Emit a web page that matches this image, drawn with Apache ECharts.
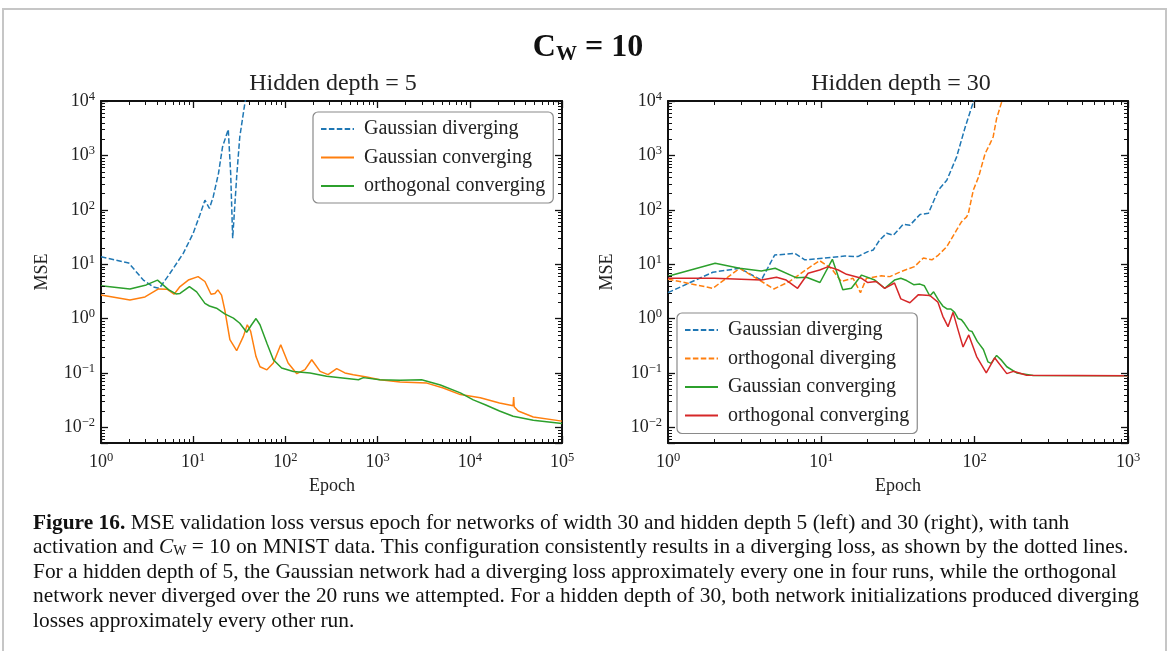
<!DOCTYPE html>
<html><head><meta charset="utf-8">
<script src="https://cdn.jsdelivr.net/npm/echarts@6/dist/echarts.min.js"></script>
<style>html,body{margin:0;padding:0;background:#fff}#c{width:1170px;height:651px}</style>
</head><body><div id="c"></div>
<script>
const FONT = '"Liberation Serif", "DejaVu Serif", serif';

// ---------- axis ranges ----------
const Y_MIN = 0.00515, Y_MAX = 1e4;
const LEFT_X_MAX = 1e5, RIGHT_X_MAX = 1e3;

// ---------- Left panel: hidden depth = 5 ----------
const L_GAUSS_DIV_X = [1, 2.0, 2.88, 3.7, 4.3, 5.6, 7.8, 10, 11.8, 13.4, 15, 16.5, 18.8, 20.8, 24, 25.5, 26.8, 29.6, 32, 36.5, 40];
const L_GAUSS_DIV_Y = [13.7, 10.5, 5.1, 3.8, 3.6, 6.8, 15.8, 37, 80, 150, 106, 174, 465, 1430, 3000, 465, 30, 400, 2180, 9600, 20000];

const L_GAUSS_CONV_X = [1, 2.06, 3.0, 4.2, 5.2, 6.2, 7.2, 8.85, 11.3, 13.4, 15.6, 17.2, 18.5, 20.3, 22, 25, 29.6, 35, 38.6, 42, 48, 53, 63, 74, 89, 107, 133, 163, 193, 238, 290, 360, 442, 545, 760, 1060, 1750, 3420, 5150, 7900, 13000, 21000, 29500, 29900, 30300, 33500, 48800, 100000];
const L_GAUSS_CONV_Y = [2.72, 2.2, 2.5, 3.5, 3.46, 2.8, 3.87, 5.1, 5.9, 4.8, 2.8, 2.9, 3.37, 2.7, 1.44, 0.41, 0.256, 0.47, 0.77, 0.58, 0.2, 0.13, 0.114, 0.152, 0.33, 0.152, 0.097, 0.115, 0.175, 0.107, 0.093, 0.12, 0.1, 0.093, 0.084, 0.075, 0.068, 0.065, 0.053, 0.04, 0.035, 0.028, 0.025, 0.036, 0.024, 0.02, 0.0155, 0.013];

const L_ORTHO_CONV_X = [1, 2.06, 3.1, 4.1, 5.4, 6.5, 7.2, 9.1, 10.9, 13.4, 15, 17.9, 22, 27.3, 32, 38, 43, 48, 53, 63, 74, 91, 122, 185, 280, 620, 700, 730, 1060, 1750, 3000, 3100, 4800, 7900, 10900, 14700, 21000, 29500, 48800, 100000];
const L_ORTHO_CONV_Y = [4.0, 3.5, 4.15, 5.1, 3.4, 2.84, 2.9, 3.87, 3.1, 1.9, 1.7, 1.55, 1.22, 1.02, 0.82, 0.56, 0.77, 1.0, 0.77, 0.35, 0.175, 0.123, 0.106, 0.1, 0.087, 0.075, 0.082, 0.087, 0.075, 0.073, 0.075, 0.07, 0.06, 0.043, 0.032, 0.026, 0.02, 0.016, 0.0135, 0.0117];

// ---------- Right panel: hidden depth = 30 ----------
const R_GAUSS_DIV_X = [1, 1.96, 2.93, 4.06, 4.96, 6.7, 7.8, 10.5, 14.2, 17.3, 20.1, 21.8, 24, 26.7, 29.5, 34.2, 37.8, 44, 49.9, 58, 65.8, 76.3, 86.7, 98, 105];
const R_GAUSS_DIV_Y = [3.0, 7.1, 8.4, 5.1, 14.7, 15.8, 12, 12.9, 14.1, 13.8, 17, 18.2, 27.8, 37, 34, 54, 52, 82, 86, 230, 350, 940, 3300, 9600, 20000];

const R_ORTHO_DIV_X = [1, 1.96, 2.93, 3.33, 4.9, 6.2, 8.2, 9.75, 11.6, 13.5, 16.1, 18, 19.7, 24.6, 28, 33, 40.5, 46.3, 52.6, 58, 65.8, 76.3, 82, 88.6, 91, 98, 106, 117, 126, 132, 139, 150, 160];
const R_ORTHO_DIV_Y = [5.3, 3.6, 8.4, 6.8, 3.5, 4.8, 8.4, 11.6, 8.4, 4.8, 5.5, 3.0, 5.5, 6.1, 5.9, 7.3, 9.0, 13, 12, 14.7, 21, 42.5, 60, 74, 86, 230, 400, 1080, 1650, 2180, 4750, 9600, 20000];

const R_GAUSS_CONV_X = [1, 2.03, 2.93, 4.06, 5.0, 6.9, 8.0, 9.8, 11.8, 13.8, 15.7, 18.3, 22.3, 25.9, 30, 33, 36, 40, 44, 47, 51, 54, 58, 62, 66, 70, 74, 78, 82, 86, 92, 96, 104, 114, 122, 128, 139, 150, 162, 188, 241, 1000];
const R_GAUSS_CONV_Y = [6.0, 10.4, 8.4, 7.5, 8.4, 5.6, 5.75, 4.6, 12.3, 3.4, 3.6, 6.3, 5.1, 3.6, 5.1, 5.5, 5.0, 4.2, 4.3, 4.0, 2.6, 3.1, 2.2, 1.7, 1.5, 1.5, 1.3, 1.0, 0.95, 0.8, 0.6, 0.58, 0.38, 0.27, 0.16, 0.15, 0.21, 0.17, 0.13, 0.1, 0.09, 0.089];

const R_ORTHO_CONV_X = [1, 2, 4.06, 5.1, 5.9, 7.0, 8.2, 9.75, 11.1, 12.9, 14.6, 18.3, 20.1, 22.8, 25.9, 30, 33, 37.8, 43, 51, 57.6, 62, 67, 72.3, 77.9, 84, 91.5, 103, 119, 135, 162, 179, 218, 1000];
const R_ORTHO_CONV_Y = [5.5, 5.5, 5.1, 5.75, 5.1, 3.6, 6.8, 7.8, 9.0, 7.8, 6.5, 5.5, 4.6, 4.8, 3.6, 4.5, 2.3, 1.95, 2.75, 2.65, 2.0, 1.1, 0.71, 1.3, 0.62, 0.3, 0.5, 0.2, 0.1, 0.19, 0.097, 0.107, 0.091, 0.089];

// ---------- series names / colours ----------
const NAMES_LEFT = ['Gaussian diverging', 'Gaussian converging', 'orthogonal converging'];
const NAMES_RIGHT = ['Gaussian diverging', 'orthogonal diverging', 'Gaussian converging', 'orthogonal converging'];
const C_BLUE = '#1f77b4', C_ORANGE = '#ff7f0e', C_GREEN = '#2ca02c', C_RED = '#d62728';

const CAPTION = [
  '{b|Figure 16.} MSE validation loss versus epoch for networks of width 30 and hidden depth 5 (left) and 30 (right), with tanh',
  'activation and {i|C}{sub|W} = 10 on MNIST data. This configuration consistently results in a diverging loss, as shown by the dotted lines.',
  'For a hidden depth of 5, the Gaussian network had a diverging loss approximately every one in four runs, while the orthogonal',
  'network never diverged over the 20 runs we attempted. For a hidden depth of 30, both network initializations produced diverging',
  'losses approximately every other run.'
];

// ---------- helpers ----------
const zip = (xs, ys) => xs.map((x, i) => [x, ys[i]]);
function minorValues(lo, hi) {
  const out = [];
  for (let p = Math.floor(Math.log10(lo)); p <= Math.ceil(Math.log10(hi)); p++) {
    for (let k = 2; k <= 9; k++) {
      const v = k * Math.pow(10, p);
      if (v > lo && v < hi) out.push(v);
    }
  }
  return out;
}
const SUP = v => String(v).replace('-', '\u2212');
function logLabel(value) {
  const e = Math.log10(value);
  const r = Math.round(e);
  if (Math.abs(e - r) > 1e-6) return '';
  return '{b|10}{s|' + SUP(r) + '}';
}
const labelRich = {
  b: { fontFamily: FONT, fontSize: 18, color: '#222', lineHeight: 22 },
  s: { fontFamily: FONT, fontSize: 12.5, color: '#222', lineHeight: 12, verticalAlign: 'top' }
};
function xAxis(grid, max, pos) {
  return {
    type: 'log', logBase: 10, gridIndex: grid, min: 1, max: max, position: pos,
    axisLine: { onZero: false, lineStyle: { color: '#111', width: 2 } },
    axisTick: { show: true, inside: true, length: 7, lineStyle: { color: '#111', width: 1.3 } },
    axisLabel: pos === 'bottom' ? { show: true, margin: 8, formatter: logLabel, rich: labelRich, showMinLabel: true, showMaxLabel: true } : { show: false },
    splitLine: { show: false }, minorTick: { show: false }
  };
}
function yAxis(grid, pos) {
  return {
    type: 'log', logBase: 10, gridIndex: grid, min: Y_MIN, max: Y_MAX, position: pos,
    axisLine: { onZero: false, lineStyle: { color: '#111', width: 2 } },
    axisTick: { show: true, inside: true, length: 7, lineStyle: { color: '#111', width: 1.3 } },
    axisLabel: pos === 'left' ? { show: true, margin: 6, formatter: logLabel, rich: labelRich, align: 'right' } : { show: false },
    splitLine: { show: false }, minorTick: { show: false }
  };
}
function lineSeries(name, xs, ys, color, dashed, xi, yi) {
  return {
    type: 'line', name: name, data: zip(xs, ys), xAxisIndex: xi, yAxisIndex: yi,
    symbol: 'none', showSymbol: false, smooth: false, clip: true, z: 3,
    lineStyle: { color: color, width: 1.5, type: dashed ? [5.5, 2.4] : 'solid' },
    itemStyle: { color: color }, emphasis: { disabled: true }
  };
}
function minorSeries(xi, yi, xMax) {
  const data = [];
  minorValues(1, xMax).forEach(v => data.push([v, 1, 0]));
  minorValues(Y_MIN, Y_MAX).forEach(v => data.push([1, v, 1]));
  return {
    type: 'custom', xAxisIndex: xi, yAxisIndex: yi, silent: true, clip: false, z: 4,
    dimensions: ['x', 'y', 't'], encode: { x: 0, y: 1 }, data: data,
    renderItem: function (params, api) {
      const cs = params.coordSys;
      const st = { stroke: '#111', lineWidth: 1 };
      if (api.value(2) === 0) {
        const x = Math.round(api.coord([api.value(0), 1])[0]) + 0.5;
        const yb = cs.y + cs.height, yt = cs.y;
        return { type: 'group', children: [
          { type: 'line', shape: { x1: x, y1: yb, x2: x, y2: yb - 4 }, style: st },
          { type: 'line', shape: { x1: x, y1: yt, x2: x, y2: yt + 4 }, style: st }
        ]};
      }
      const y = Math.round(api.coord([1, api.value(1)])[1]) + 0.5;
      const xl = cs.x, xr = cs.x + cs.width;
      return { type: 'group', children: [
        { type: 'line', shape: { x1: xl, y1: y, x2: xl + 4, y2: y }, style: st },
        { type: 'line', shape: { x1: xr, y1: y, x2: xr - 4, y2: y }, style: st }
      ]};
    }
  };
}
const tag = (n, side) => n + ' (' + side + ')';
const legendBase = {
  orient: 'vertical', selectedMode: false,
  backgroundColor: '#fff', borderColor: '#8a8a8a', borderWidth: 1.2, borderRadius: 5,
  itemWidth: 33, itemHeight: 14, itemGap: 8.5,
  itemStyle: { opacity: 0, borderWidth: 0 },
  textStyle: { fontFamily: FONT, fontSize: 20, lineHeight: 20, color: '#222', padding: [0, 0, 0, 5] },
  formatter: name => name.replace(/ \((L|R)\)$/, '')
};

const chart = echarts.init(document.getElementById('c'), null, { renderer: 'canvas' });
const CAP_FS = 21.4;
const captionGraphics = CAPTION.map((t, i) => ({
  type: 'text', x: 33, y: 523 + i * 24.6,
  style: {
    text: t, fill: '#111', font: CAP_FS + 'px ' + FONT, textVerticalAlign: 'middle', verticalAlign: 'middle',
    rich: {
      b: { fontFamily: FONT, fontSize: CAP_FS, fontWeight: 'bold', fill: '#111' },
      i: { fontFamily: FONT, fontSize: CAP_FS, fontStyle: 'italic', fill: '#111' },
      sub: { fontFamily: FONT, fontSize: 14, fill: '#111', verticalAlign: 'bottom', lineHeight: 12 }
    }
  }
}));

chart.setOption({
  animation: false,
  backgroundColor: '#fff',
  grid: [
    { left: 101, top: 101, width: 461, height: 342 },
    { left: 668, top: 101, width: 460, height: 342 }
  ],
  xAxis: [xAxis(0, LEFT_X_MAX, 'bottom'), xAxis(0, LEFT_X_MAX, 'top'), xAxis(1, RIGHT_X_MAX, 'bottom'), xAxis(1, RIGHT_X_MAX, 'top')],
  yAxis: [yAxis(0, 'left'), yAxis(0, 'right'), yAxis(1, 'left'), yAxis(1, 'right')],
  legend: [
    Object.assign({}, legendBase, { left: 313, top: 112, padding: [7, 8, 7, 7],
      data: NAMES_LEFT.map(n => tag(n, 'L')) }),
    Object.assign({}, legendBase, { left: 677, top: 313, padding: [7, 8, 8, 7],
      data: NAMES_RIGHT.map(n => tag(n, 'R')) })
  ],
  series: [
    lineSeries(tag(NAMES_LEFT[0], 'L'), L_GAUSS_DIV_X, L_GAUSS_DIV_Y, C_BLUE, true, 0, 0),
    lineSeries(tag(NAMES_LEFT[1], 'L'), L_GAUSS_CONV_X, L_GAUSS_CONV_Y, C_ORANGE, false, 0, 0),
    lineSeries(tag(NAMES_LEFT[2], 'L'), L_ORTHO_CONV_X, L_ORTHO_CONV_Y, C_GREEN, false, 0, 0),
    lineSeries(tag(NAMES_RIGHT[0], 'R'), R_GAUSS_DIV_X, R_GAUSS_DIV_Y, C_BLUE, true, 2, 2),
    lineSeries(tag(NAMES_RIGHT[1], 'R'), R_ORTHO_DIV_X, R_ORTHO_DIV_Y, C_ORANGE, true, 2, 2),
    lineSeries(tag(NAMES_RIGHT[2], 'R'), R_GAUSS_CONV_X, R_GAUSS_CONV_Y, C_GREEN, false, 2, 2),
    lineSeries(tag(NAMES_RIGHT[3], 'R'), R_ORTHO_CONV_X, R_ORTHO_CONV_Y, C_RED, false, 2, 2),
    minorSeries(0, 0, LEFT_X_MAX),
    minorSeries(2, 2, RIGHT_X_MAX)
  ],
  graphic: [
    { type: 'rect', z: -10, silent: true, shape: { x: 3, y: 9, width: 1163, height: 720 },
      style: { fill: 'none', stroke: '#c6c6c6', lineWidth: 2 } },
    { type: 'text', x: 588, y: 48, style: {
        text: '{c|C}{w|W}{c| = 10}', textAlign: 'center', align: 'center', verticalAlign: 'middle', textVerticalAlign: 'middle',
        rich: {
          c: { fontFamily: FONT, fontSize: 32, fontWeight: 'bold', fill: '#111', lineHeight: 34 },
          w: { fontFamily: FONT, fontSize: 21, fontWeight: 'bold', fill: '#111', lineHeight: 18, verticalAlign: 'bottom', padding: [12, 0, 0, 0] }
        } } },
    { type: 'text', x: 333, y: 84, style: { text: 'Hidden depth = 5', font: '24px ' + FONT, fill: '#222', align: 'center', textAlign: 'center', verticalAlign: 'middle', textVerticalAlign: 'middle' } },
    { type: 'text', x: 901, y: 84, style: { text: 'Hidden depth = 30', font: '24px ' + FONT, fill: '#222', align: 'center', textAlign: 'center', verticalAlign: 'middle', textVerticalAlign: 'middle' } },
    { type: 'text', x: 42, y: 272, rotation: Math.PI / 2, style: { text: 'MSE', font: '18px ' + FONT, fill: '#222', align: 'center', textAlign: 'center', verticalAlign: 'middle', textVerticalAlign: 'middle' } },
    { type: 'text', x: 607, y: 272, rotation: Math.PI / 2, style: { text: 'MSE', font: '18px ' + FONT, fill: '#222', align: 'center', textAlign: 'center', verticalAlign: 'middle', textVerticalAlign: 'middle' } },
    { type: 'text', x: 332, y: 486, style: { text: 'Epoch', font: '18px ' + FONT, fill: '#222', align: 'center', textAlign: 'center', verticalAlign: 'middle', textVerticalAlign: 'middle' } },
    { type: 'text', x: 898, y: 486, style: { text: 'Epoch', font: '18px ' + FONT, fill: '#222', align: 'center', textAlign: 'center', verticalAlign: 'middle', textVerticalAlign: 'middle' } }
  ].concat(captionGraphics)
});
</script>
</body></html>
